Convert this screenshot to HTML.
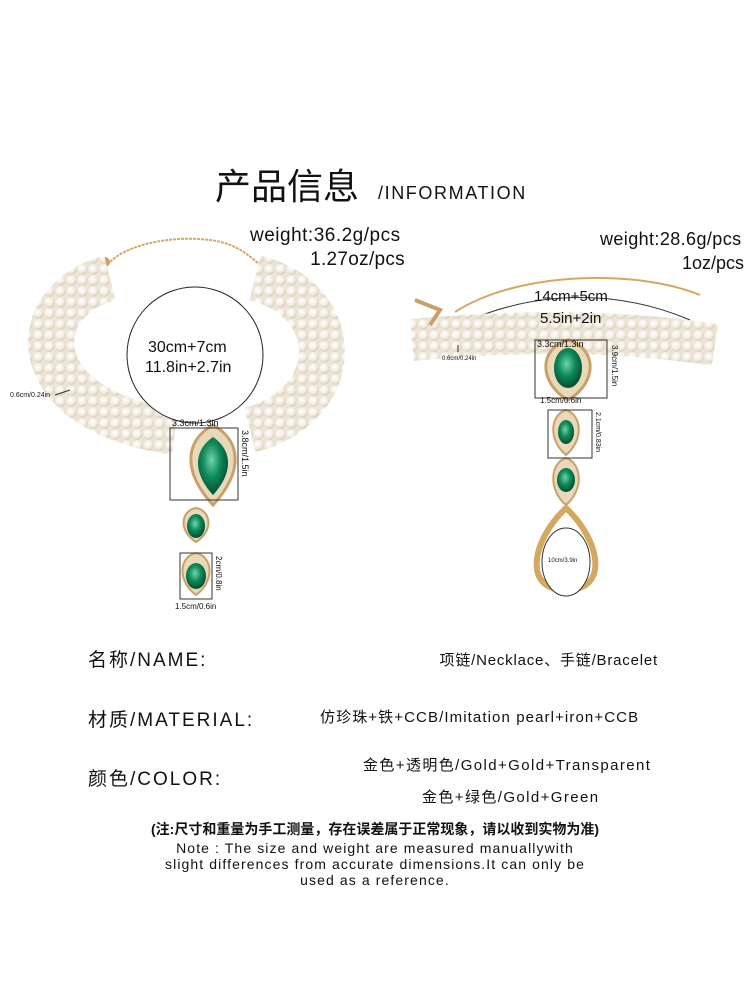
<!DOCTYPE html>
<html><head><meta charset="utf-8"><style>
html,body{margin:0;padding:0;background:#fff;}
body{width:750px;height:1000px;position:relative;overflow:hidden;font-family:"Liberation Sans","Noto Sans CJK SC",sans-serif;color:#111;}
.t{position:absolute;white-space:nowrap;line-height:1;}
</style></head><body>
<svg width="750" height="1000" style="position:absolute;left:0;top:0">
<defs>
<radialGradient id="pg" cx="40%" cy="35%" r="65%"><stop offset="0" stop-color="#fff"/><stop offset="0.6" stop-color="#f3ede2"/><stop offset="1" stop-color="#d8cdb8"/></radialGradient>
<pattern id="pearl" width="11" height="11" patternUnits="userSpaceOnUse"><rect width="11" height="11" fill="#ece4d6"/><circle cx="5.5" cy="5.5" r="5.2" fill="url(#pg)"/></pattern>
<radialGradient id="gem" cx="45%" cy="40%" r="60%"><stop offset="0" stop-color="#6fd6a8"/><stop offset="0.5" stop-color="#0f8a5a"/><stop offset="1" stop-color="#054d33"/></radialGradient>
</defs>
<path d="M105,268 C120,245 170,235 210,240 C235,243 250,255 265,270" stroke="#d4a860" stroke-width="2" fill="none" stroke-dasharray="3 1"/>
<circle cx="105" cy="262" r="5" fill="#c9a06a"/>
<path d="M110,278 C25,300 20,410 175,432" stroke="url(#pearl)" stroke-width="46" fill="none"/>
<path d="M255,278 C345,300 345,405 250,430" stroke="url(#pearl)" stroke-width="46" fill="none"/>
<circle cx="195" cy="355" r="68" fill="#fff" stroke="#222" stroke-width="1"/>
<path d="M213,425 C240,440 245,470 213,505 C181,470 186,440 213,425Z" fill="#e8d9b8" stroke="#c9a06a" stroke-width="3"/>
<path d="M213,437 C232,450 234,472 213,495 C192,472 194,450 213,437Z" fill="url(#gem)"/>
<path d="M196,508 C210,510 215,530 196,542 C177,530 182,510 196,508Z" fill="#e8d9b8" stroke="#c9a06a" stroke-width="2"/>
<ellipse cx="196" cy="526" rx="9" ry="12" fill="url(#gem)"/>
<path d="M196,553 C212,556 216,580 196,595 C176,580 180,556 196,553Z" fill="#e8d9b8" stroke="#c9a06a" stroke-width="2"/>
<ellipse cx="196" cy="576" rx="10" ry="13" fill="url(#gem)"/>
<g stroke="#333" stroke-width="1" fill="none">
<rect x="170" y="428" width="68" height="72"/>
<rect x="180" y="553" width="32" height="46"/>
<line x1="55" y1="395" x2="70" y2="390"/>
</g>
<path d="M455,312 C520,270 640,270 700,295" stroke="#d4a860" stroke-width="2" fill="none"/>
<path d="M470,320 C540,290 620,290 690,320" stroke="#333" stroke-width="1" fill="none"/>
<path d="M412,340 C520,330 620,330 715,345" stroke="url(#pearl)" stroke-width="42" fill="none"/>
<path d="M415,300 L440,310 L430,325" stroke="#c9a06a" stroke-width="4" fill="none"/>
<path d="M568,340 C600,350 595,385 568,400 C541,385 536,350 568,340Z" fill="#e8d9b8" stroke="#c9a06a" stroke-width="3"/>
<ellipse cx="568" cy="368" rx="14" ry="20" fill="url(#gem)"/>
<path d="M566,410 C582,415 584,440 566,455 C548,440 550,415 566,410Z" fill="#e8d9b8" stroke="#c9a06a" stroke-width="2"/>
<ellipse cx="566" cy="432" rx="8" ry="12" fill="url(#gem)"/>
<path d="M566,458 C582,463 584,490 566,505 C548,490 550,463 566,458Z" fill="#e8d9b8" stroke="#c9a06a" stroke-width="2"/>
<ellipse cx="566" cy="480" rx="9" ry="12" fill="url(#gem)"/>
<path d="M566,508 C600,540 610,590 566,590 C522,590 532,540 566,508Z" fill="none" stroke="#d4a860" stroke-width="6"/>
<ellipse cx="566" cy="562" rx="24" ry="34" fill="#fff" stroke="#333"/>
<g stroke="#333" stroke-width="1" fill="none">
<rect x="535" y="340" width="72" height="58"/>
<rect x="548" y="410" width="44" height="48"/>
<line x1="458" y1="345" x2="458" y2="352"/>
</g>
</svg>
<div class="t" style="left:215px;top:166px;font-size:36px;font-family:'Noto Sans CJK SC',sans-serif;">产品信息</div>
<div class="t" style="left:378px;top:184px;font-size:18px;letter-spacing:1.6px;">/INFORMATION</div>
<div class="t" style="left:250px;top:226px;font-size:19px;letter-spacing:0.5px;">weight:36.2g/pcs</div>
<div class="t" style="left:300px;top:250px;font-size:19px;width:105px;text-align:right;letter-spacing:0.3px;">1.27oz/pcs</div>
<div class="t" style="left:600px;top:230px;font-size:18px;letter-spacing:0.4px;">weight:28.6g/pcs</div>
<div class="t" style="left:640px;top:254px;font-size:18px;width:104px;text-align:right;">1oz/pcs</div>
<div class="t" style="left:148px;top:340px;font-size:16px;">30cm+7cm</div>
<div class="t" style="left:145px;top:360px;font-size:16px;">11.8in+2.7in</div>
<div class="t" style="left:10px;top:392px;font-size:7px;">0.6cm/0.24in</div>
<div class="t" style="left:172px;top:419px;font-size:9px;">3.3cm/1.3in</div>
<div class="t" style="left:240px;top:430px;font-size:9px;writing-mode:vertical-rl;">3.8cm/1.5in</div>
<div class="t" style="left:214px;top:556px;font-size:8px;writing-mode:vertical-rl;">2cm/0.8in</div>
<div class="t" style="left:175px;top:603px;font-size:8px;">1.5cm/0.6in</div>
<div class="t" style="left:534px;top:289px;font-size:15px;">14cm+5cm</div>
<div class="t" style="left:540px;top:311px;font-size:15px;">5.5in+2in</div>
<div class="t" style="left:442px;top:356px;font-size:6px;">0.6cm/0.24in</div>
<div class="t" style="left:537px;top:340px;font-size:9px;">3.3cm/1.3in</div>
<div class="t" style="left:610px;top:345px;font-size:8px;writing-mode:vertical-rl;">3.9cm/1.5in</div>
<div class="t" style="left:540px;top:397px;font-size:8px;">1.5cm/0.6in</div>
<div class="t" style="left:594px;top:412px;font-size:7px;writing-mode:vertical-rl;">2.1cm/0.83in</div>
<div class="t" style="left:548px;top:558px;font-size:6px;">10cm/3.9in</div>
<div class="t" style="left:88px;top:651px;font-size:19px;letter-spacing:2px;">名称/NAME:</div>
<div class="t" style="left:400px;top:653px;font-size:15px;width:258px;text-align:right;letter-spacing:0.8px;">项链/Necklace、手链/Bracelet</div>
<div class="t" style="left:88px;top:711px;font-size:19px;letter-spacing:2px;">材质/MATERIAL:</div>
<div class="t" style="left:320px;top:710px;font-size:15px;letter-spacing:1.1px;">仿珍珠+铁+CCB/Imitation pearl+iron+CCB</div>
<div class="t" style="left:88px;top:770px;font-size:19px;letter-spacing:2px;">颜色/COLOR:</div>
<div class="t" style="left:363px;top:758px;font-size:15px;letter-spacing:1.4px;">金色+透明色/Gold+Gold+Transparent</div>
<div class="t" style="left:422px;top:790px;font-size:15px;letter-spacing:1.4px;">金色+绿色/Gold+Green</div>
<div class="t" style="left:0;width:750px;text-align:center;top:822px;font-size:14px;font-weight:bold;">(注:尺寸和重量为手工测量，存在误差属于正常现象，请以收到实物为准)</div>
<div class="t" style="left:0;width:750px;text-align:center;top:841px;font-size:14px;letter-spacing:1.1px;">Note : The size and weight are measured manuallywith</div>
<div class="t" style="left:0;width:750px;text-align:center;top:857px;font-size:14px;letter-spacing:1.1px;">slight differences from accurate dimensions.It can only be</div>
<div class="t" style="left:0;width:750px;text-align:center;top:873px;font-size:14px;letter-spacing:1.1px;">used as a reference.</div>
</body></html>
